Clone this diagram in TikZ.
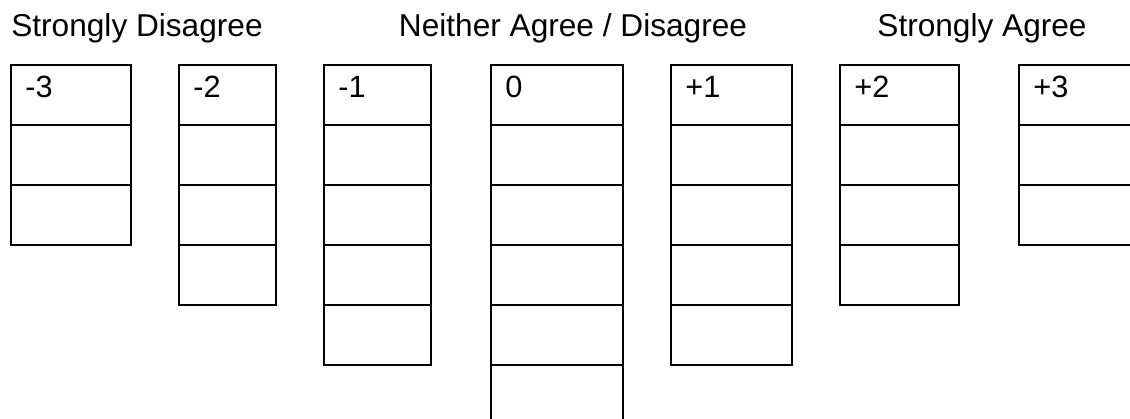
\documentclass[tikz,border=0pt]{standalone}
\usepackage{fontspec}
\setmainfont{Liberation Sans}
\usetikzlibrary{positioning}

\begin{document}
\begin{tikzpicture}[x=0.02cm, y=-0.02cm,
    cell/.style={draw, line width=1pt, minimum height=1.2cm, inner sep=0pt, outer sep=0pt, anchor=north west},
    score/.style={anchor=base west, inner sep=0pt, font=\fontsize{17.5}{20}\selectfont},
    head/.style={anchor=base, inner sep=0pt, font=\fontsize{18}{21}\selectfont}]
    \useasboundingbox (0,0) rectangle (1130,419);
    \clip (0,0) rectangle (1130,419);
    \node[head] (hsd) at (137,36) {Strongly Disagree};
    \node[head] (hna) at (573,36) {Neither Agree / Disagree};
    \node[head] (hsa) at (982,36) {Strongly Agree};
    % one column of cells per score
    \foreach \nm/\lbl/\x/\w/\n in {a/-3/11/120/3, b/-2/179/97/4, c/-1/324/107/5, d/0/491/132/6, e/+1/671/121/5, f/+2/840/119/4, g/+3/1019/120/3} {
        \foreach \i in {1,...,\n}
            \node[cell, minimum width=\w*0.02cm] (\nm\i) at (\x,{5+60*\i}) {};
        \node[score] (s\nm) at ({\x+14},97) {\lbl};
    }
\end{tikzpicture}
\end{document}
